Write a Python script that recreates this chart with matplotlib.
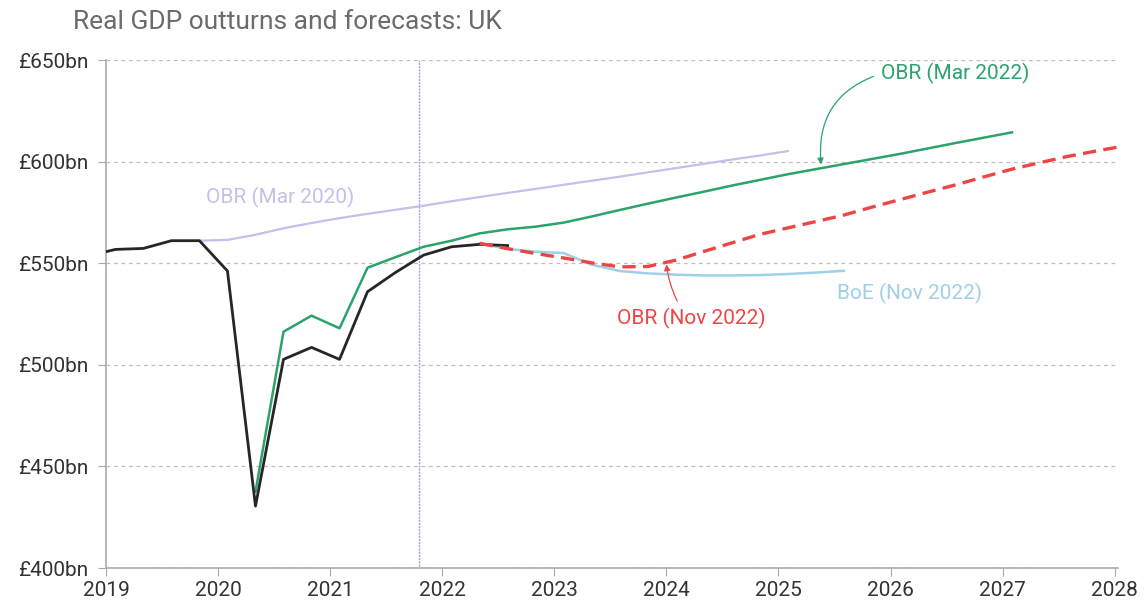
import numpy as np
import matplotlib
matplotlib.use("Agg")
import matplotlib.pyplot as plt

plt.rcParams['font.family'] = ['Roboto', 'DejaVu Sans']

# quarterly dates, plotted at the middle month of each quarter
def q(year, quarter):
    return year + (quarter * 3 - 2) / 12.0

# Data
outturn_x = [q(2018, 4), q(2019, 1), q(2019, 2), q(2019, 3), q(2019, 4), q(2020, 1), q(2020, 2),
             q(2020, 3), q(2020, 4), q(2021, 1), q(2021, 2), q(2021, 3), q(2021, 4), q(2022, 1),
             q(2022, 2), q(2022, 3)]
outturn = [553.5, 556.8, 557.3, 561.1, 561.1, 546.2, 430.5, 502.7, 508.6, 502.7, 536.0, 545.5,
           554.0, 558.1, 559.3, 558.7]

obr20_x = [q(2019, 4), q(2020, 1), q(2020, 2), q(2020, 3), q(2020, 4), q(2021, 1), q(2021, 2),
           q(2021, 3), q(2021, 4), q(2022, 1), q(2022, 2), q(2022, 3), q(2022, 4), q(2023, 1),
           q(2023, 2), q(2023, 3), q(2023, 4), q(2024, 1), q(2024, 2), q(2024, 3), q(2024, 4),
           q(2025, 1)]
obr20 = [561.1, 561.5, 564.0, 567.2, 569.8, 572.2, 574.3, 576.3, 578.3, 580.5, 582.6, 584.6,
         586.6, 588.6, 590.6, 592.6, 594.7, 596.8, 598.9, 601.0, 603.0, 605.2]

obr22_x = [q(2020, 2), q(2020, 3), q(2020, 4), q(2021, 1), q(2021, 2), q(2021, 3), q(2021, 4),
           q(2022, 1), q(2022, 2), q(2022, 3), q(2022, 4), q(2023, 1), q(2023, 2), q(2023, 3),
           q(2023, 4), q(2024, 1), q(2024, 2), q(2024, 3), q(2024, 4), q(2025, 1), q(2025, 2),
           q(2025, 3), q(2025, 4), q(2026, 1), q(2026, 2), q(2026, 3), q(2026, 4), q(2027, 1)]
obr22 = [437.6, 516.3, 524.2, 518.0, 547.8, 553.0, 558.1, 561.1, 564.7, 566.7, 568.0, 570.0,
         573.0, 576.2, 579.3, 582.3, 585.2, 588.2, 591.0, 593.8, 596.3, 598.8, 601.3, 603.8,
         606.5, 609.2, 611.8, 614.4]

obrnov_x = [q(2022, 2), q(2022, 3), q(2022, 4), q(2023, 1), q(2023, 2), q(2023, 3), q(2023, 4),
            q(2024, 1), q(2024, 2), q(2024, 3), q(2024, 4), q(2025, 1), q(2025, 2), q(2025, 3),
            q(2025, 4), q(2026, 1), q(2026, 2), q(2026, 3), q(2026, 4), q(2027, 1), q(2027, 2),
            q(2027, 3), q(2027, 4), q(2028, 1)]
obrnov = [559.8, 557.2, 554.8, 552.6, 550.2, 548.2, 548.4, 551.5, 555.8, 560.0, 564.2, 567.4,
          570.5, 573.7, 577.6, 581.3, 585.0, 588.6, 592.5, 596.3, 599.5, 602.6, 605.2, 607.7]

boe_x = [q(2022, 2), q(2022, 3), q(2022, 4), q(2023, 1), q(2023, 2), q(2023, 3), q(2023, 4),
         q(2024, 1), q(2024, 2), q(2024, 3), q(2024, 4), q(2025, 1), q(2025, 2), q(2025, 3)]
boe = [559.8, 557.0, 555.7, 555.0, 549.3, 546.2, 545.0, 544.4, 544.0, 544.0, 544.2, 544.7,
       545.4, 546.3]

years = list(range(2019, 2029))
y_ticks = [400, 450, 500, 550, 600, 650]

# Colours
c_black = '#262626'
c_purple = '#c9bdea'
c_green = '#2ba36b'
c_red = '#ef4444'
c_blue = '#9fd0e8'

fig = plt.figure(figsize=(11.44, 6.05), dpi=100)
ax = fig.add_axes([0.0927, 0.061, 0.8846, 0.8398])

# vertical marker line
ax.axvline(2021.79, color='#a898ee', lw=1.0, ls=(0, (1.5, 0.8)), ymin=0.005, ymax=1.0,
           zorder=1.5)

ax.plot(obr20_x, obr20, color=c_purple, lw=1.6, zorder=2)
ax.plot(boe_x, boe, color=c_blue, lw=1.8, zorder=3)
ax.plot(obr22_x, obr22, color=c_green, lw=1.8, zorder=3)
ax.plot(outturn_x, outturn, color=c_black, lw=2.0, zorder=4)
ax.plot(obrnov_x, obrnov, color=c_red, lw=2.4, ls=(0, (4, 2.2)), zorder=5)

ax.set_xlim(2019, 2028.03)
ax.set_ylim(400, 650)
ax.set_xticks(years)
ax.set_xticklabels([str(y) for y in years])
ax.set_yticks(y_ticks)
ax.set_yticklabels(['£%dbn' % v for v in y_ticks])

ax.grid(axis='y', color='#bdbdbd', ls=(0, (3, 3)), lw=0.9)
ax.set_axisbelow(True)
for s in ['top', 'right']:
    ax.spines[s].set_visible(False)
for s in ['left', 'bottom']:
    ax.spines[s].set_color('#aaaaaa')
    ax.spines[s].set_linewidth(1.2)
ax.tick_params(axis='both', colors='#aaaaaa', labelcolor='#333333', labelsize=15, length=6)
ax.tick_params(axis='y', pad=7)
ax.tick_params(axis='x', pad=3)

# Labels
ax.text(2020.55, 582.4, 'OBR (Mar 2020)', color=c_purple, fontsize=15, ha='center', va='center')
ax.annotate('OBR (Mar 2022)', xy=(2025.38, 598.6), xytext=(2026.58, 643.3),
            color=c_green, fontsize=15, ha='center', va='center',
            arrowprops=dict(arrowstyle='-|>', color=c_green, lw=0.9, mutation_scale=9,
                            connectionstyle='arc3,rad=0.4', relpos=(0, 0.5),
                            shrinkA=4, shrinkB=0))
ax.text(2026.17, 535.3, 'BoE (Nov 2022)', color=c_blue, fontsize=15, ha='center', va='center')
ax.annotate('OBR (Nov 2022)', xy=(2024.0, 549.5), xytext=(2024.22, 523.0),
            color=c_red, fontsize=15, ha='center', va='center',
            arrowprops=dict(arrowstyle='-|>', color=c_red, lw=0.9, mutation_scale=9,
                            connectionstyle='arc3,rad=-0.1', relpos=(0.43, 1.0),
                            shrinkA=3, shrinkB=0))

fig.text(0.064, 0.963, 'Real GDP outturns and forecasts: UK', color='#6b6b6b', fontsize=19,
         ha='left', va='center')

fig.savefig('out.png', dpi=100)
